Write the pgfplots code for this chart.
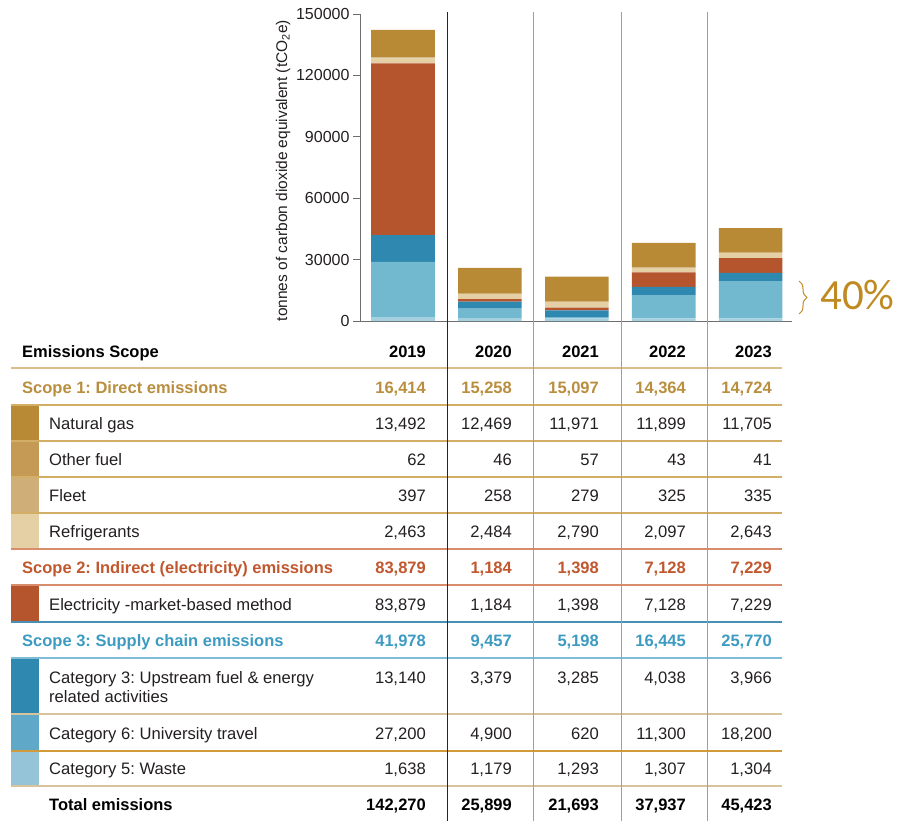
\documentclass[border=0pt]{standalone}
\usepackage{pgfplots}
\pgfplotsset{compat=1.18}
\usepackage{pgfplotstable}
\usepackage{fontspec}
\setmainfont{Liberation Sans}
\newfontfamily\carlito{Carlito}
\usetikzlibrary{decorations.pathreplacing}
\frenchspacing

\definecolor{cgas}{HTML}{B98A36}
\definecolor{cother}{HTML}{C49A55}
\definecolor{cfleet}{HTML}{CFAE78}
\definecolor{cref}{HTML}{E5CFA5}
\definecolor{celec}{HTML}{B5552E}
\definecolor{ccat3}{HTML}{2F88B0}
\definecolor{ctravel}{HTML}{72B8CF}
\definecolor{cwaste}{HTML}{A5D0DF}
\definecolor{swtravel}{HTML}{5FA8C8}
\definecolor{swwaste}{HTML}{95C3D8}
\definecolor{tscope1}{HTML}{B98E3E}
\definecolor{tscope2}{HTML}{C0572E}
\definecolor{tscope3}{HTML}{3D9BC1}
\definecolor{tdark}{HTML}{231F20}
\definecolor{ltan}{HTML}{D9BE8A}
\definecolor{lgold}{HTML}{D3AE66}
\definecolor{lorange}{HTML}{D98C6C}
\definecolor{lblue}{HTML}{4A90B5}
\definecolor{llblue}{HTML}{7FBCD6}
\definecolor{ltan2}{HTML}{D8C39C}
\definecolor{lgold2}{HTML}{D19A3A}
\definecolor{axisgray}{HTML}{6E6E6E}
\definecolor{cpct}{HTML}{C08A22}

\pgfplotstableread{
i waste travel cat3 elec refrig fleet other gas
0 1638 27200 13140 83879 2463 397 62 13492
1 1179 4900 3379 1184 2484 258 46 12469
2 1293 620 3285 1398 2790 279 57 11971
3 1307 11300 4038 7128 2097 325 43 11899
4 1304 18200 3966 7229 2643 335 41 11705
}\bardata

\newcommand\rowvals[7]{%
  \node[anchor=base east,#2] at (426,#1) {#3};
  \node[anchor=base east,#2] at (512,#1) {#4};
  \node[anchor=base east,#2] at (599,#1) {#5};
  \node[anchor=base east,#2] at (686,#1) {#6};
  \node[anchor=base east,#2] at (772,#1) {#7};
}

\begin{document}
\begin{tikzpicture}
\useasboundingbox (0pt,0pt) rectangle (899pt,-821pt);
\begin{axis}[
  at={(360pt,-321pt)}, anchor=south west,
  scale only axis, width=432pt, height=307pt,
  xmin=-0.4948, xmax=4.476, ymin=0, ymax=150000,
  ybar stacked, bar width=0.731,
  axis x line=bottom, axis y line=left,
  axis line style={-, draw=axisgray, line width=0.9pt},
  xtick=\empty,
  ytick={0,30000,60000,90000,120000,150000},
  scaled y ticks=false,
  /pgf/number format/assume math mode=true,
  yticklabel style={/pgf/number format/fixed, /pgf/number format/1000 sep={}, font=\fontsize{16}{16}\selectfont, text=tdark},
  tick align=outside, major tick length=7pt,
  ytick style={draw=axisgray, line width=0.8pt},
  ylabel={tonnes of carbon dioxide equivalent (tCO\textsubscript{2}e)},
  ylabel style={font=\fontsize{15.5}{16}\selectfont, text=tdark, at={(axis description cs:-0.178,0.49)}, anchor=center},
  clip=false,
]
\addplot[fill=cwaste, draw=none] table[x=i, y=waste] {\bardata};
\addplot[fill=ctravel, draw=none] table[x=i, y=travel] {\bardata};
\addplot[fill=ccat3, draw=none] table[x=i, y=cat3] {\bardata};
\addplot[fill=celec, draw=none] table[x=i, y=elec] {\bardata};
\addplot[fill=cref, draw=none] table[x=i, y=refrig] {\bardata};
\addplot[fill=cfleet, draw=none] table[x=i, y=fleet] {\bardata};
\addplot[fill=cother, draw=none] table[x=i, y=other] {\bardata};
\addplot[fill=cgas, draw=none] table[x=i, y=gas] {\bardata};
\end{axis}

\draw[decorate, decoration={brace, amplitude=8pt}, draw=cpct, line width=1pt] (799pt,-281pt) -- (799pt,-314pt);
\node[anchor=base west, inner sep=0pt, text=cpct, font=\carlito\fontsize{43}{50}\selectfont] at (820pt,-309.5pt) {40\%};

\begin{scope}[x=1pt, y=-1pt,
  every node/.style={inner sep=0pt, font=\fontsize{16.6}{20}\selectfont, text=tdark},
  tb/.style={font=\fontsize{16.5}{20}\selectfont\bfseries}]
% swatches
\fill[cgas] (11,405) rectangle (39,441);
\fill[cother] (11,441) rectangle (39,477);
\fill[cfleet] (11,477) rectangle (39,513);
\fill[cref] (11,513) rectangle (39,549);
\fill[celec] (11,585) rectangle (39,622);
\fill[ccat3] (11,658) rectangle (39,714);
\fill[swtravel] (11,714) rectangle (39,751);
\fill[swwaste] (11,751) rectangle (39,786);
% horizontal rules
\draw[ltan, line width=1.5pt] (11,368) -- (782,368);
\draw[lgold, line width=1.5pt] (11,405) -- (782,405);
\draw[lgold, line width=1.5pt] (11,441) -- (782,441);
\draw[lgold, line width=1.5pt] (11,477) -- (782,477);
\draw[lgold, line width=1.5pt] (11,513) -- (782,513);
\draw[lorange, line width=1.5pt] (11,549) -- (782,549);
\draw[lorange, line width=1.5pt] (11,585) -- (782,585);
\draw[lblue, line width=1.5pt] (11,622) -- (782,622);
\draw[llblue, line width=1.5pt] (11,658) -- (782,658);
\draw[ltan2, line width=1.5pt] (11,714) -- (782,714);
\draw[lgold2, line width=1.5pt] (11,751) -- (782,751);
\draw[ltan2, line width=1.5pt] (11,786) -- (782,786);
% labels
\node[anchor=base west, tb, text=black] at (22,357) {Emissions Scope};
\rowvals{357}{tb, text=black}{2019}{2020}{2021}{2022}{2023}
\node[anchor=base west, tb, text=tscope1] at (22,393) {Scope 1: Direct emissions};
\rowvals{393}{tb, text=tscope1}{16,414}{15,258}{15,097}{14,364}{14,724}
\node[anchor=base west] at (49,429) {Natural gas};
\rowvals{429}{}{13,492}{12,469}{11,971}{11,899}{11,705}
\node[anchor=base west] at (49,465) {Other fuel};
\rowvals{465}{}{62}{46}{57}{43}{41}
\node[anchor=base west] at (49,501) {Fleet};
\rowvals{501}{}{397}{258}{279}{325}{335}
\node[anchor=base west] at (49,537) {Refrigerants};
\rowvals{537}{}{2,463}{2,484}{2,790}{2,097}{2,643}
\node[anchor=base west, tb, text=tscope2] at (22,573) {Scope 2: Indirect (electricity) emissions};
\rowvals{573}{tb, text=tscope2}{83,879}{1,184}{1,398}{7,128}{7,229}
\node[anchor=base west] at (49,610) {Electricity -market-based method};
\rowvals{610}{}{83,879}{1,184}{1,398}{7,128}{7,229}
\node[anchor=base west, tb, text=tscope3] at (22,646) {Scope 3: Supply chain emissions};
\rowvals{646}{tb, text=tscope3}{41,978}{9,457}{5,198}{16,445}{25,770}
\node[anchor=base west] at (49,683) {Category 3: Upstream fuel \& energy};
\node[anchor=base west] at (49,702) {related activities};
\rowvals{683}{}{13,140}{3,379}{3,285}{4,038}{3,966}
\node[anchor=base west] at (49,739) {Category 6: University travel};
\rowvals{739}{}{27,200}{4,900}{620}{11,300}{18,200}
\node[anchor=base west] at (49,774) {Category 5: Waste};
\rowvals{774}{}{1,638}{1,179}{1,293}{1,307}{1,304}
\node[anchor=base west, tb, text=black] at (49,810.5) {Total emissions};
\rowvals{810.5}{tb, text=black}{142,270}{25,899}{21,693}{37,937}{45,423}
% vertical column rules
\draw[black!85, line width=1pt] (447,12) -- (447,821);
\draw[gray!75, line width=1pt] (533,12) -- (533,821);
\draw[gray!75, line width=1pt] (621,12) -- (621,821);
\draw[gray!75, line width=1pt] (707,12) -- (707,821);
\end{scope}
\end{tikzpicture}
\end{document}
